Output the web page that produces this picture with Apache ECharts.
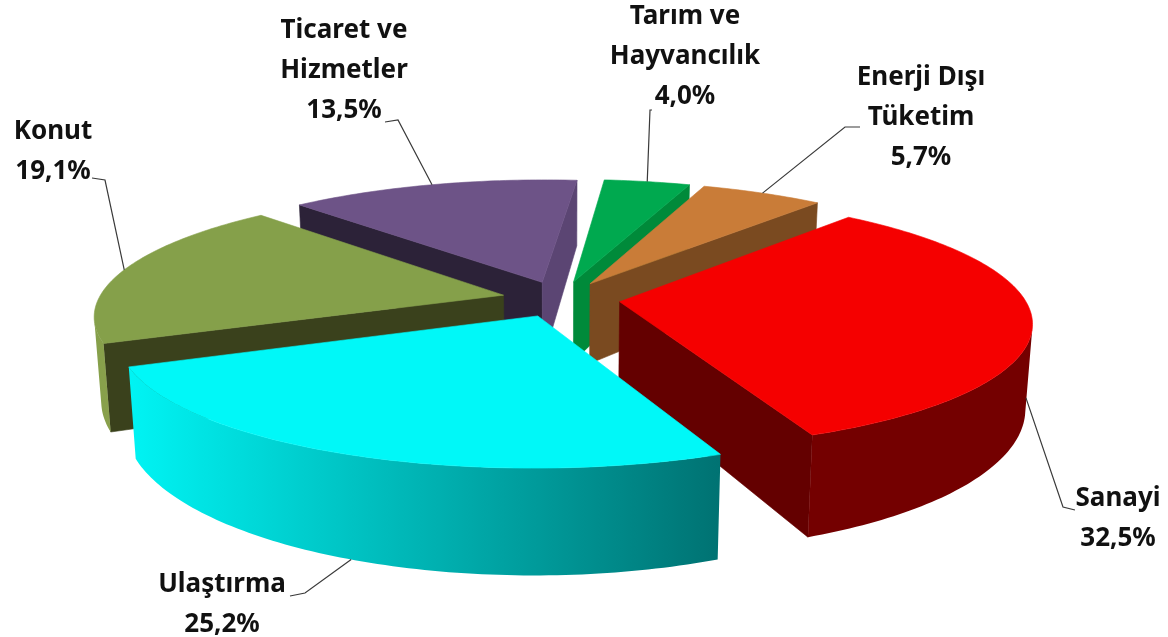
<!DOCTYPE html>
<html><head><meta charset="utf-8">
<style>html,body{margin:0;padding:0;background:#fff}#c{width:1168px;height:637px}</style>
<script src="https://cdn.jsdelivr.net/npm/echarts@6/dist/echarts.min.js"></script>
</head><body><div id="c"></div>
<script>
const categories = ['Sanayi','Ulaştırma','Konut','Ticaret ve\nHizmetler','Tarım ve\nHayvancılık','Enerji Dışı\nTüketim'];
const values = [32.5,25.2,19.1,13.5,4.0,5.7];
const topColors = ['#f50000','#00f8f8','#85a04a','#6d5387','#00a94f','#c97c38'];
const startWallColors = ['#640000','#00a0a0','#3a411c','#2c2238','#008a3a','#7a4a20'];
const endWallColors = ['#640000','#007a7a','#3a411c','#5b4573','#008a3a','#7a4a20'];
const outerColors = [['#740000','#740000'],['#007272','#00f4f4'],['#8aa04c','#85a04a'],['#5b4573','#5b4573'],['#008a3a','#008a3a'],['#7a4a20','#7a4a20']];
const labelCenters = [[1118,519],[222,605],[53,152],[344,71],[685,57],[921,118]];
const labelElbows = [[1063,507],[305,593],[105,180],[398,120],[650,110],[845,127]];
const labelEnds = [[1075,510],[290,596],[92,178],[385,122],[652,110],[860,127]];
const anchorDepth = [0.9,1,0,0,0,0];

const cam = {cx:561,cy:299,A:405,B:123,H:82,depthPow:1.4,p:0.154,q:0.015,explode:0.146,start:40.3,fontSize:26};
const rad = d => d*Math.PI/180;
function proj(X,Y,z){const w=1+cam.p*Y+cam.q*z,d=1+cam.p*Y;return [cam.cx+cam.A*X/w,cam.cy-cam.B*Y/d+cam.H*z/Math.pow(d,cam.depthPow)];}
const total = values.reduce((a,b)=>a+b,0);
let run = cam.start;
const spans = values.map(v=>{const s=run;run+=v/total*360;return [s,run];});
function area(pts){let s=0;pts.forEach((p,i)=>{const q=pts[(i+1)%pts.length];s+=p[0]*q[1]-q[0]*p[1];});return s;}
function poly(points,fill,z2){return {type:'polygon',shape:{points},z2,style:{fill,stroke:typeof fill==='string'?fill:null,lineWidth:0.6}};}

function renderSlice(params){
  const i=params.dataIndex,[a0,a1]=spans[i],m=(a0+a1)/2;
  const ex=cam.explode*Math.sin(rad(m)),ey=cam.explode*Math.cos(rad(m));
  const rank=Array.from(values.keys()).sort((u,v)=>Math.cos(rad((spans[v][0]+spans[v][1])/2))-Math.cos(rad((spans[u][0]+spans[u][1])/2))).indexOf(i);
  const base=rank*10+1, kids=[];
  const rim=(a,z)=>proj(ex+Math.sin(rad(a)),ey+Math.cos(rad(a)),z);
  const apex=z=>proj(ex,ey,z);
  const startWall=[apex(0),apex(1),rim(a0,1),rim(a0,0)];
  if(area(startWall)>0) kids.push(poly(startWall,startWallColors[i],base));
  const endWall=[apex(0),rim(a1,0),rim(a1,1),apex(1)];
  if(area(endWall)>0) kids.push(poly(endWall,endWallColors[i],base));
  const steps=Math.ceil(a1-a0), top=[apex(0)], upper=[], lower=[];
  for(let k=0;k<=steps;k++){
    const a=a0+(a1-a0)*k/steps; top.push(rim(a,0));
    if(k<steps){
      const b=a0+(a1-a0)*(k+1)/steps, q=[rim(a,0),rim(b,0),rim(b,1),rim(a,1)];
      if(area(q)<0){ if(!upper.length){upper.push(q[0]);lower.push(q[3]);} upper.push(q[1]);lower.push(q[2]); }
    }
  }
  if(upper.length){
    const grad=new echarts.graphic.LinearGradient(0,0,1,0,[{offset:0,color:outerColors[i][1]},{offset:1,color:outerColors[i][0]}]);
    kids.push(poly(upper.concat(lower.reverse()),grad,base+1));
  }
  kids.push(poly(top,topColors[i],base+2));
  const anchor=proj(ex+Math.sin(rad(m)),ey+Math.cos(rad(m)),anchorDepth[i]);
  kids.push({type:'polyline',z2:100,shape:{points:[labelEnds[i],labelElbows[i],anchor]},style:{stroke:'#3a3a3a',lineWidth:1.2,fill:null}});
  kids.push({type:'text',z2:101,x:labelCenters[i][0],y:labelCenters[i][1],style:{
    text:categories[i]+'\n'+values[i].toFixed(1).replace('.',',')+'%',
    font:'bold '+cam.fontSize+'px "Noto Sans"',lineHeight:40,fill:'#111',align:'center',verticalAlign:'middle'}});
  return {type:'group',children:kids};
}
const chart=echarts.init(document.getElementById('c'),null,{renderer:'canvas'});
chart.setOption({animation:false,backgroundColor:'#fff',series:[{type:'custom',coordinateSystem:'none',renderItem:renderSlice,
  data:values.map((v,i)=>({name:categories[i],value:v}))}]});
</script></body></html>
